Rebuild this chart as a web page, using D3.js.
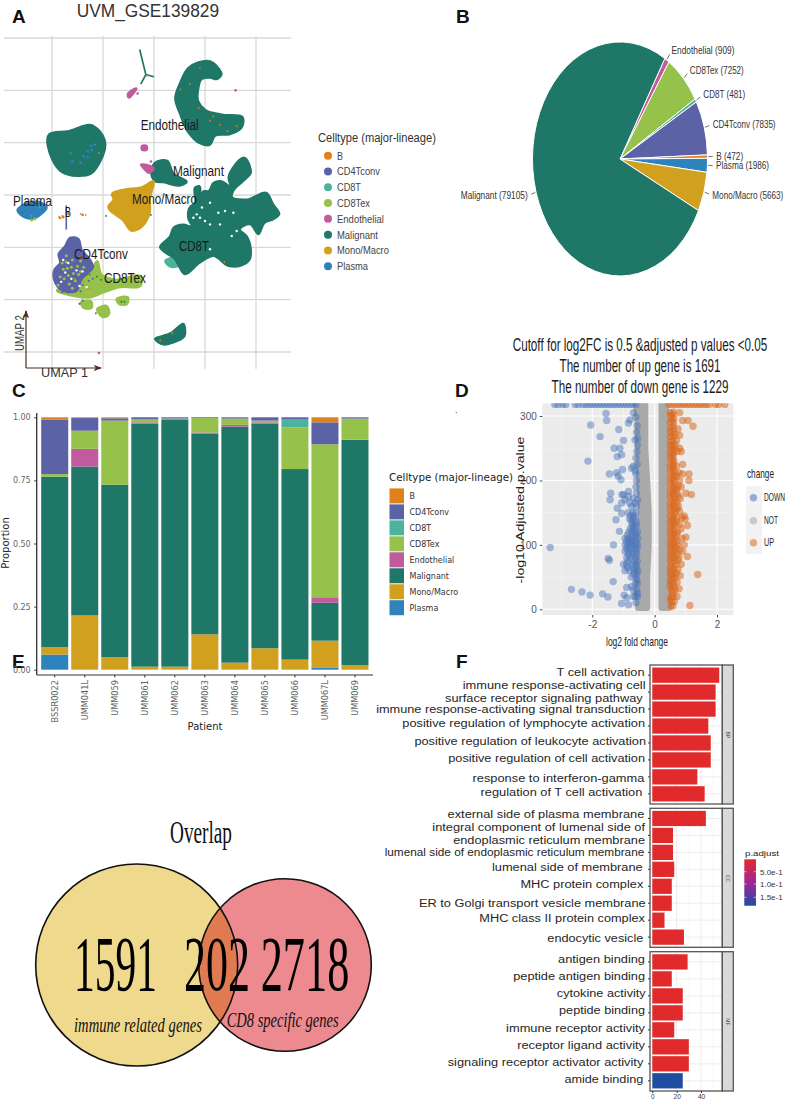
<!DOCTYPE html>
<html><head><meta charset="utf-8">
<script src="https://cdnjs.cloudflare.com/ajax/libs/d3/7.9.0/d3.min.js"></script>
<style>html,body{margin:0;padding:0;background:#fff}svg{display:block}</style>
</head><body><svg id="c" width="787" height="1101"></svg>
<script>
const SANS="Liberation Sans",DJ="DejaVu Sans",SERIF="Liberation Serif";
const cellTypes=["B","CD4Tconv","CD8T","CD8Tex","Endothelial","Malignant","Mono/Macro","Plasma"];
const cellColors=["#e0821b","#5b62a6","#4eb39c","#96c14a","#c05b9d","#1f7768","#d1a01f","#2f83bd"];
const col=d3.scaleOrdinal(cellTypes,cellColors);

// ---- A: UMAP outlines, in UMAP units
const umapMalignant=[
 [[2.06,9.3],[2.55,10.73],[3.37,12.16],[4.35,12.7],[5.49,12.8],[6.31,12.16],[6.64,11.53],[6.15,11.05],[5.49,11.2],[4.68,11.05],[4.35,10.09],[4.35,8.98],[5,8.18],[6.64,7.7],[8.76,7.32],[8.6,6.43],[7.45,5.79],[5.98,5.63],[5.49,4.77],[4.35,5],[3.37,5.95],[2.55,7.7]],
 [[-10.3,5.8],[-8.5,6.1],[-5.9,6.6],[-5.3,6.1],[-4.8,5.2],[-5.3,3.1],[-6.2,2.0],[-7.5,1.8],[-9.2,2.3],[-10.0,3.4]],
 [[.59,-5.03],[1.57,-3.92],[1.9,-3.12],[2.88,-2.81],[3.69,-2.97],[3.37,-2.33],[3.6,-1.05],[3.92,-.89],[4.09,.79],[4.41,.86],[4.51,-.42],[4.84,.38],[5.33,.38],[5.82,1.18],[6.64,1.33],[7.45,.86],[7.29,1.65],[7.71,2.61],[8.92,3.56],[9.41,2.77],[9.51,2.13],[8.76,1.33],[7.78,.38],[7.62,-.1],[9.09,-.42],[11.05,.22],[11.7,-.89],[12.29,-1.85],[11.7,-2.33],[10.88,-2.65],[10.23,-3.76],[9.41,-2.81],[8.43,-3.28],[9.09,-3.92],[9.51,-5.19],[9.41,-6.15],[8.43,-6.79],[7.29,-6.79],[5.82,-5.83],[4.51,-6.47],[3.04,-7.58],[1.9,-5.99],[1.08,-5.51]],
 [[0.1,3.1],[1.3,3.3],[1.9,2.1],[3.2,1.2],[2.6,0.9],[0.9,1.2],[0.1,1.3],[-0.3,2.1]],
 [[0.1,-13.8],[1.6,-13.2],[2.9,-12.3],[3.0,-13.5],[1.9,-14.1],[0.9,-14.3]]
];
const umapTrident=[[[-1.4,13.9],[-0.8,11.5],[0,11.3]],[[-0.8,11.5],[-1.3,10.6]]];
const umapEndothelial=[
 [[-2.6,9.6],[-2.2,10],[-1.7,10.2],[-2,9.7],[-2.5,9.3]],
 [[-1.2,4.7],[-0.7,4.7],[-0.7,4.3],[-1.2,4.3]],
 [[-1.3,2.9],[-0.7,2.9],[0,2.5],[-0.5,2.1],[-1.0,2.5]]
];
const umapMono=[[[-4.15,.07],[-2.85,.54],[-1.21,.75],[-.07,1.34],[-.39,-.41],[-.39,-1.68],[-1.54,-3.28],[-2.19,-3.44],[-3.01,-2.48],[-4.48,-1.05],[-3.99,-.41]]];
const umapPlasma=[[[-13.4,-1.4],[-12.8,-0.9],[-11.1,-0.7],[-10.5,-1.2],[-11.0,-1.8],[-12.0,-2.3],[-12.6,-2.2]]];
const umapTex=[
 [[-9.54,-9.17],[-7.91,-8.05],[-6.28,-7.26],[-5.56,-6.3],[-5.13,-7.58],[-3.99,-8.05],[-1.21,-7.9],[-1.21,-8.53],[-3.5,-8.85],[-4.97,-9.33],[-6.28,-9.8],[-7.91,-9.65]],
 [[-7.2,-10.3],[-6.1,-10.2],[-6.1,-10.8],[-6.9,-10.8]],
 [[-5.6,-10.9],[-4.6,-10.6],[-4.4,-11.4],[-4.9,-11.7]],
 [[-3.7,-10.0],[-2.5,-9.8],[-2.6,-10.4],[-3.5,-10.4]]
];
const umapCD4=[[[-9.38,-5.67],[-8.73,-4.87],[-8.24,-4.07],[-7.42,-4.17],[-7.09,-5.19],[-6.28,-6.14],[-5.95,-6.78],[-7.09,-8.05],[-7.58,-9.17],[-9.22,-9],[-9.71,-8.37],[-9.77,-7.1],[-9.22,-6.46]]];
const umapCD8T=[[[1.08,-6.31],[1.9,-5.99],[2.39,-6.79],[1.57,-6.85]]];
const umapDotsOrange=[[4.5,12.1],[2.6,10.1],[3.5,10.6],[4.4,8.3],[5.8,7.5],[6.5,6.7],[7.2,6.1],[5.5,7.1],[8.1,6.6],[-0.7,11.4],[6.9,-6.4],[1.8,-13.2],[0.6,-13.9],[-5.4,4],[-7.8,-8],[-6.9,-8.2],[-6.3,-8.9],[-9.3,-9.2],[-7.2,-5.9],[-12.0,-2.0],[-11.2,-1.2],[-7.2,-1.8],[-9.3,-2.1],[-9.0,-2.0],[-6.7,-1.9]];
const umapDotsBlue=[[-6.2,4.7],[-6.5,4.2],[-6.9,3.7],[-7.2,3.1],[-5.8,4.8],[-8.2,4],[-8,3.2],[-6.5,3.6],[-6.1,4.3]];
const umapDotsTexOnCD4=[[-9,-6.5],[-8.5,-7],[-8,-6.2],[-8.8,-8],[-7.9,-7.5],[-8.3,-8.5],[-7.5,-6.8],[-9.2,-7.8],[-8.6,-5.8],[-7.7,-8.2],[-8.1,-6.9],[-8.9,-7.1],[-8.4,-7.7],[-7.4,-7.6],[-9.4,-8.6],[-8,-8.9],[-7.2,-6.3],[-6.9,-6.9],[-8.6,-6.4],[-7.2,-7.3],[-12.0,-2.4],[-11.7,-2.3]];
const umapDotsCD4OnTex=[[-6.6,-7.6],[-6.9,-7.8],[-6.4,-8.2],[-7,-8.6],[-6,-8],[-7.2,-9.2],[-8.5,-9.3],[-9,-9.3],[-7.0,-10.1],[-7.3,-10.4]];
const umapDotsWhite=[[5.49,-.74],[6.31,-1.69],[4.51,-2.17],[5,-2.49],[5.49,-2.81],[7.78,-1.69],[8.11,-3.44],[7.62,-3.92],[5.49,-5.19],[4.19,-1.85],[6.96,-1.53],[6.47,-2.81],[3.86,-2.17],[4.7,-1.2],[-8.7,-7.4],[-8.1,-8],[-7.3,-8.7],[-8.9,-6.2],[-7.6,-7.2],[-8.4,-6.5],[-7,-7.3],[-6.6,-8.8],[-9.1,-8.3]];
const umapDotsMalignant=[[-5.6,-7.8],[-6.3,-7.6],[-5.2,-8.1],[-3.2,-10.2],[-2.9,-10.2],[-3.2,-8],[-5.7,-11.3],[-4.7,-2.0],[-0.3,-1.9],[-12.9,-1.7]];
const umapDotsPink=[[8.0,10.0],[-0.3,3.2],[-5.4,-15.1],[-1.6,9.7],[-2.4,9.7]];
const umapBStem=[[-8.6,-1.0],[-8.6,-3.3]];
const umapBDots=[[-9.2,-2.2],[-8.9,-2.1],[-8.4,-1.8],[-7.0,-1.9]];
const umapLabels=["Endothelial","Malignant","Mono/Macro","Plasma","B","CD4Tconv","CD8Tex","CD8T"];

// ---- B: pie
const pieNames=["Endothelial","CD8Tex","CD8T","CD4Tconv","B","Plasma","Mono/Macro","Malignant"];
const pieCounts=[909,7252,481,7835,472,1986,5663,79105];

// ---- C: stacked proportions per patient
const patients=["BSSR0022","UMM041L","UMM059","UMM061","UMM062","UMM063","UMM064","UMM065","UMM066","UMM067L","UMM069"];
const propPlasma=[.06,0,0,0,0,0,0,0,0,.007,0];
const propMono=[.03,.215,.05,.012,.012,.14,.028,.085,.04,.108,.018];
const propMalignant=[.675,.59,.683,.963,.978,.795,.935,.89,.755,.15,.892];
const propEndothelial=[0,.07,0,.005,.003,.005,.007,.005,0,.022,.001];
const propCD8Tex=[.01,.072,.254,.013,.002,.057,.025,.007,.165,.606,.084];
const propCD8T=[0,0,0,0,0,0,0,0,.033,0,0];
const propCD4=[.215,.05,.009,.007,.005,.003,.005,.013,.007,.087,.005];
const propB=[.01,.003,.004,0,0,0,0,0,0,.02,0];

// ---- D: volcano
const downTop=[-3.2,-3.1,-2.95,-2.85,-2.55,-2.45,-2.3,-2.2,-2.1,-2,-1.9,-1.8,-1.7,-1.6,-1.5,-1.4,-1.3,-1.2,-1.1,-1,-.9,-.8,-.7,-.6];
const upTop=[.45,.55,.65,.75,.85,.95,1.05,1.15,1.25,1.35,1.45,1.55,1.65,1.75,1.95,2.05,2.25];
const downPoints=[[-3.35,96],[-2.67,31],[-2.33,27],[-2.07,22],[-1.67,24],[-1.5,19],[-1.33,43],[-1.49,79],[-1.45,76],[-1.32,100],[-1.13,121],[-1.24,139],[-1.2,157],[-1.06,149],[-1.43,170],[-1.41,180],[-1.06,165],[-1,178],[-.84,175],[-.68,172],[-.84,183],[-.58,180],[-1.05,178],[-.95,170],[-1.45,210],[-1.22,212],[-1.03,217],[-1.17,207],[-1.08,201],[-.68,222],[-.6,235],[-.74,219],[-2.14,230],[-1.2,237],[-1.06,240],[-1.3,250],[-1.11,250],[-1,262],[-1.75,268],[-1.15,279],[-2.05,286],[-1.54,293],[-1.56,304],[-.84,289],[-.68,305],[-.79,294],[-.63,263],[-1.06,9],[-.84,7],[-.98,22],[-.9,34],[-.74,35],[-.68,20],[-.9,18],
[-.85,150],[-.7,150],[-.6,150],[-.8,140],[-.7,140],[-.62,140],[-.72,130],[-.65,130],[-.58,130],[-.82,120],[-.72,120],[-.62,120],[-.55,120],[-.95,110],[-.85,110],[-.75,110],[-.65,110],[-.55,110],[-.95,100],[-.85,100],[-.75,100],[-.65,100],[-.55,100],[-.95,90],[-.85,90],[-.72,90],[-.6,90],[-.9,80],[-.78,80],[-.62,80],[-1,70],[-.9,70],[-.72,70],[-.6,70],[-.95,60],[-.8,60],[-.65,60],[-.55,60],[-.75,50],[-.6,50],[-.62,40],[-.55,40],[-.68,30],[-.58,30],[-.62,20],[-.55,20],[-.6,10],[-.58,160],[-.6,190],[-.58,200],[-.6,210],[-.57,245],[-.55,255],[-.58,275],[-.56,285],[-.6,298],
[-.78,145],[-.66,145],[-.74,135],[-.6,135],[-.78,125],[-.66,125],[-.88,115],[-.7,115],[-.6,115],[-.9,105],[-.8,105],[-.7,105],[-.6,105],[-.9,95],[-.78,95],[-.66,95],[-.56,95],[-.84,85],[-.7,85],[-.58,85],[-.85,75],[-.66,75],[-.56,75],[-.88,65],[-.7,65],[-.58,65],[-.68,55],[-.57,55],[-.58,45],[-.56,25],[-.55,170],[-.56,225],[-.62,215],[-.55,265],[-.62,165],[-.74,160],[-.8,165]];
const upPoints=[[1.13,6],[1.38,54],[1.05,82],[1.05,130],[.98,140],[1,112],[.95,100],[.9,90],[1.18,178],[1.1,200],[1.1,210],[.9,210],[1,180],[.85,190],[.9,225],[1.07,293],[1.23,284],[.9,293],[.75,280],[.8,305],[.85,245],[.8,250],[.8,270],[.95,145],[.85,125],
[.52,5],[.58,5],[.55,12],[.63,12],[.52,20],[.6,20],[.72,20],[.55,30],[.65,30],[.78,32],[.52,40],[.6,40],[.72,42],[.55,50],[.66,50],[.82,52],[.52,60],[.62,60],[.75,62],[.56,70],[.68,70],[.85,70],[.52,80],[.62,80],[.78,80],[.55,90],[.66,90],[.8,92],[.52,100],[.62,100],[.75,100],[.55,110],[.66,110],[.88,110],[.52,120],[.62,120],[.74,120],[.55,130],[.64,130],[.8,132],[.52,140],[.6,140],[.72,142],[.88,142],[.55,150],[.66,150],[.8,152],[.52,160],[.62,160],[.76,160],[.55,170],[.66,170],[.82,172],[.52,180],[.6,180],[.72,180],[.55,190],[.66,190],[.76,192],[.52,200],[.62,200],[.8,200],[.55,210],[.66,210],[.78,212],[.52,220],[.6,220],[.7,222],[.55,230],[.62,230],[.52,240],[.6,240],[.72,245],[.54,250],[.62,250],[.52,260],[.58,262],[.7,262],[.55,272],[.65,272],[.52,282],[.6,284],[.54,294],[.62,296],[.52,300],[.58,302],
[.5,15],[.58,25],[.5,35],[.62,35],[.5,45],[.6,47],[.5,55],[.58,55],[.7,56],[.5,65],[.6,65],[.5,75],[.62,75],[.74,76],[.5,85],[.6,85],[.72,86],[.5,95],[.58,95],[.7,96],[.5,105],[.6,105],[.72,106],[.5,115],[.58,115],[.7,116],[.5,125],[.6,125],[.5,135],[.6,135],[.7,136],[.5,145],[.6,145],[.5,155],[.6,155],[.72,156],[.5,165],[.6,165],[.72,166],[.5,175],[.6,175],[.76,176],[.5,185],[.6,185],[.7,186],[.5,195],[.6,195],[.5,205],[.6,205],[.7,206],[.5,215],[.6,215],[.5,225],[.6,225],[.5,235],[.58,235],[.5,245],[.6,245],[.5,255],[.58,255],[.66,255],[.5,268],[.6,268],[.5,277],[.6,278],[.5,290],[.6,290],[.5,305],[.6,306]];
const notY=[2,50,100,150,200,250,300,318];
const notLeftOuter=[-.53,-.53,-.47,-.43,-.5,-.53,-.55,-.6];
const notLeftInner=[-.24,-.24,-.19,-.19,-.24,-.3,-.3,-.3];
const notRightInner=[.22,.22,.22,.22,.22,.22,.22,.22];
const notRightOuter=[.46,.41,.38,.36,.34,.36,.38,.36];
const changeNames=["DOWN","NOT","UP"];
const changeColors=["#4a72b8","#a9a9a9","#d9691f"];

// ---- F: GO enrichment
const goBP=["T cell activation","immune response-activating cell surface receptor signaling pathway","immune response-activating signal transduction","positive regulation of lymphocyte activation","positive regulation of leukocyte activation","positive regulation of cell activation","response to interferon-gamma","regulation of T cell activation"];
const goBPCounts=[55,52,52,46,48,48,37,43];
const goCC=["external side of plasma membrane","integral component of lumenal side of endoplasmic reticulum membrane","lumenal side of endoplasmic reticulum membrane","lumenal side of membrane","MHC protein complex","ER to Golgi transport vesicle membrane","MHC class II protein complex","endocytic vesicle"];
const goCCCounts=[44,17,17,18,16,16,10,26];
const goMF=["antigen binding","peptide antigen binding","cytokine activity","peptide binding","immune receptor activity","receptor ligand activity","signaling receptor activator activity","amide binding"];
const goMFCounts=[29,16,25,25,18,30,30,25];
const goMFPadjust=[.001,.001,.001,.001,.001,.001,.001,.16];
const goLabelRows=[
["T cell activation",644.5,672.3,88],["immune response-activating cell",645.5,684.7,183],["surface receptor signaling pathway",642.7,697.7,198],["immune response-activating signal transduction",645,709.3,269],["positive regulation of lymphocyte activation",645,723.3,243],["positive regulation of leukocyte activation",646,740.7,232],["positive regulation of cell activation",645,757.7,197],["response to interferon-gamma",644.3,777.7,172],["regulation of T cell activation",642.3,792.3,162],
["external side of plasma membrane",644.3,814,197],["integral component of lumenal side of",645,826.7,213],["endoplasmic reticulum membrane",645,840,192],["lumenal side of endoplasmic reticulum membrane",644.3,852.3,260],["lumenal side of membrane",642.7,867,151],["MHC protein complex",643.3,884,123],["ER to Golgi transport vesicle membrane",645.7,902.7,227],["MHC class II protein complex",645,918.3,166],["endocytic vesicle",643.3,937.7,96],
["antigen binding",645,959,87],["peptide antigen binding",645,976.3,132],["cytokine activity",645.7,993.3,89],["peptide binding",645,1010.3,86],["immune receptor activity",645,1028,139],["receptor ligand activity",645,1044.7,128],["signaling receptor activator activity",643.3,1062,196],["amide binding",643.3,1079,79]];

// ---- E: Venn
const vennCounts=[1591,202,2718];
const vennNames=["immune related genes","CD8 specific genes"];

const svg=d3.select("#c");
const defs=svg.append("defs");
function T(g,x,y,s,o={}){
  const t=g.append("text").text(s)
   .attr("font-family",o.f||SANS).attr("font-size",o.s||10).attr("fill",o.c||"#222")
   .attr("text-anchor",o.a||"start");
  if(o.w)t.attr("font-weight",o.w);
  if(o.i)t.attr("font-style","italic");
  const k=o.l?o.l/t.node().getComputedTextLength():1;
  t.attr("transform",`translate(${x},${y})`+(o.r?` rotate(${o.r})`:"")+(o.l?` scale(${k},1)`:""));
  return t;
}
[["A",12,23],["B",456,22.6],["C",12,397],["D",455,397],["E",12,668],["F",456,668]].forEach(d=>T(svg,d[1],d[2],d[0],{s:19,w:"bold",c:"#111"}));

// ===== A
(function(){
 const g=svg.append("g");
 const x=d3.scaleLinear([-10,10],[52,256]),y=d3.scaleLinear([-15,15],[352,38]);
 g.selectAll(".h").data(d3.range(-15,16,5)).join("line").attr("x1",4).attr("x2",291).attr("y1",y).attr("y2",y).attr("stroke","#d9d9d9").attr("stroke-width",1.3);
 g.selectAll(".v").data(d3.range(-10,11,5)).join("line").attr("y1",36).attr("y2",369).attr("x1",x).attr("x2",x).attr("stroke","#d9d9d9").attr("stroke-width",1.3);
 const blob=d3.line().x(d=>x(d[0])).y(d=>y(d[1])).curve(d3.curveCatmullRomClosed.alpha(1));
 const open=d3.line().x(d=>x(d[0])).y(d=>y(d[1]));
 const draw=(arr,c)=>g.append("g").selectAll("path").data(arr).join("path").attr("d",blob).attr("fill",c).attr("stroke",c).attr("stroke-width",1.8).attr("stroke-linejoin","round");
 const dots=(arr,c,r)=>g.append("g").selectAll("circle").data(arr).join("circle").attr("cx",d=>x(d[0])).attr("cy",d=>y(d[1])).attr("r",r).attr("fill",c);
 draw(umapCD8T,col("CD8T"));
 draw(umapMalignant,col("Malignant"));
 g.append("g").selectAll("path").data(umapTrident).join("path").attr("d",open).attr("fill","none").attr("stroke",col("Malignant")).attr("stroke-width",1.7);
 draw(umapEndothelial,col("Endothelial"));
 draw(umapMono,col("Mono/Macro"));
 draw(umapPlasma,col("Plasma"));
 draw(umapTex,col("CD8Tex"));
 draw(umapCD4,col("CD4Tconv"));
 dots(umapDotsTexOnCD4,col("CD8Tex"),1.5);
 dots(umapDotsCD4OnTex,col("CD4Tconv"),1.1);
 dots(umapDotsWhite,"#fff",1.2);
 dots(umapDotsBlue,col("Plasma"),1.4);
 dots(umapDotsMalignant,col("Malignant"),.9);
 dots(umapDotsPink,col("Endothelial"),1.3);
 dots(umapDotsOrange,col("B"),.9);
 g.append("path").attr("d",open(umapBStem)).attr("stroke",col("CD4Tconv")).attr("stroke-width",1.6);
 dots(umapBDots,col("B"),1.4);
 const lp=[[140.7,130,58],[173,175.7,51],[132,204,65],[13,205.7,39],[65,216.7,6],[74,259,54],[104,282.7,42],[179,250.7,30]];
 umapLabels.forEach((s,i)=>T(g,lp[i][0],lp[i][1],s,{s:14,l:lp[i][2],c:"#1a1a1a"}));
 T(g,76.7,17,"UVM_GSE139829",{s:19,l:142.5,c:"#333"});
 defs.append("marker").attr("id","ah").attr("viewBox","0 0 8 8").attr("refX",7).attr("refY",4).attr("markerWidth",7).attr("markerHeight",7).attr("orient","auto").append("path").attr("d","M0,1L8,4L0,7L2,4Z").attr("fill","#4b2e20");
 g.append("line").attr("x1",26).attr("y1",368).attr("x2",26).attr("y2",311).attr("stroke","#4b2e20").attr("stroke-width",1.2).attr("marker-end","url(#ah)");
 g.append("line").attr("x1",26).attr("y1",368).attr("x2",101).attr("y2",368).attr("stroke","#4b2e20").attr("stroke-width",1.2).attr("marker-end","url(#ah)");
 T(g,24,351,"UMAP 2",{s:12,r:-90,l:36,c:"#333"});
 T(g,41,377,"UMAP 1",{s:12,l:47,c:"#333"});
 T(g,318,142,"Celltype (major-lineage)",{s:12.5,l:118,c:"#333"});
 const ly=d3.scalePoint(cellTypes,[155.7,266.2]);
 const lw=[6,43,24,33,47,41,52,31];
 g.selectAll(".k").data(cellTypes).join("circle").attr("cx",328).attr("cy",ly).attr("r",4).attr("fill",col);
 cellTypes.forEach((s,i)=>T(g,337,ly(s)+4,s,{s:11.5,c:"#444",l:lw[i]}));
})();

// ===== B
(function(){
 const g=svg.append("g").attr("transform","translate(620,159)");
 const rx=87.5,ry=117;
 const start=30.8*Math.PI/180;
 const arcs=d3.pie().sort(null).startAngle(start).endAngle(start+2*Math.PI)(pieCounts);
 const arc=d3.arc().innerRadius(0).outerRadius(1);
 const outer=g.append("g").attr("transform",`scale(${rx},${ry})`);
 outer.selectAll("path").data(arcs).join("path").attr("d",arc).attr("fill",(d,i)=>col(pieNames[i])).attr("stroke","#fff").attr("stroke-width",1).attr("vector-effect","non-scaling-stroke");
 const pw=[63,54,42,63,27,53,71,67];
 arcs.forEach((d,i)=>{
  const a=(d.startAngle+d.endAngle)/2, sx=Math.sin(a), sy=-Math.cos(a);
  g.append("line").attr("x1",rx*1.01*sx).attr("y1",ry*1.01*sy).attr("x2",rx*1.06*sx).attr("y2",ry*1.06*sy).attr("stroke","#333").attr("stroke-width",.7);
  const lx=rx*1.1*sx, ly=ry*1.1*sy;
  T(g,lx,ly+3.4,`${pieNames[i]} (${pieCounts[i]})`,{s:10,c:"#333",a:sx>=0?"start":"end",l:pw[i]});
 });
})();

// ===== C
(function(){
 const g=svg.append("g");
 const x=d3.scaleBand(patients,[36.7,373]).paddingInner(.1).paddingOuter(.15);
 const y=d3.scaleLinear([0,1],[669.7,417.3]);
 const order=[["Plasma",propPlasma],["Mono/Macro",propMono],["Malignant",propMalignant],["Endothelial",propEndothelial],["CD8Tex",propCD8Tex],["CD8T",propCD8T],["CD4Tconv",propCD4],["B",propB]];
 const rows=patients.map((p,i)=>{const r={p};order.forEach(o=>r[o[0]]=o[1][i]);return r;});
 const st=d3.stack().keys(order.map(o=>o[0]))(rows);
 g.selectAll("g.s").data(st).join("g").attr("fill",d=>col(d.key)).selectAll("rect").data(d=>d).join("rect")
  .attr("x",d=>x(d.data.p)).attr("width",x.bandwidth()).attr("y",d=>y(d[1])).attr("height",d=>y(d[0])-y(d[1]));
 const ya=g.append("g").attr("transform","translate(36.7,0)").call(d3.axisLeft(y).tickValues([0,.25,.5,.75,1]).tickFormat(d3.format(".2f")).tickSize(2.5));
 ya.select(".domain").attr("d","M0,413V675").attr("stroke","#333").attr("stroke-width",1.3);
 ya.selectAll("text").attr("font-family",DJ).attr("font-size",8).attr("fill","#666").attr("dx",-.5);
 ya.selectAll("line").attr("stroke","#333");
 const xa=g.append("g").attr("transform","translate(0,675)").call(d3.axisBottom(x).tickSize(2.5));
 xa.select(".domain").attr("d","M36.7,0H373").attr("stroke","#777").attr("stroke-width",1.6);
 xa.selectAll("line").attr("stroke","#333");
 xa.selectAll("text").attr("font-family",DJ).attr("font-size",8.2).attr("fill","#666").attr("text-anchor","end").attr("dominant-baseline","central").attr("transform","rotate(-90)").attr("x",-5).attr("y",0).attr("dy",0);
 T(g,205,730,"Patient",{f:DJ,s:10,a:"middle",c:"#222"});
 T(g,9,543,"Proportion",{f:DJ,s:10,a:"middle",r:-90,c:"#222"});
 T(g,389,481,"Celltype (major-lineage)",{f:DJ,s:10.3,c:"#222"});
 const ly=d3.scaleBand(cellTypes,[488,615.8]);
 g.selectAll("rect.k").data(cellTypes).join("rect").attr("class","k").attr("x",389.5).attr("width",14.5).attr("y",d=>ly(d)+.4).attr("height",15).attr("fill",col);
 cellTypes.forEach(s=>T(g,409.5,ly(s)+11,s,{f:DJ,s:8,c:"#333"}));
})();

// ===== D
(function(){
 const g=svg.append("g");
 const L=542.3,R=733.3,Tp=403.3,B=615;
 const x=d3.scaleLinear([-2,2],[592.3,717]),y=d3.scaleLinear([0,300],[609.3,416]);
 g.append("rect").attr("x",L).attr("y",Tp).attr("width",R-L).attr("height",B-Tp).attr("fill","#ebebeb");
 defs.append("clipPath").attr("id","vc").append("rect").attr("x",L).attr("y",Tp).attr("width",R-L).attr("height",B-Tp);
 const grid=g.append("g");
 grid.selectAll(".a").data([-3,-1,1]).join("line").attr("x1",x).attr("x2",x).attr("y1",Tp).attr("y2",B).attr("stroke","#f5f5f5").attr("stroke-width",.6);
 grid.selectAll(".b").data([50,150,250]).join("line").attr("y1",y).attr("y2",y).attr("x1",L).attr("x2",R).attr("stroke","#f5f5f5").attr("stroke-width",.6);
 grid.selectAll(".c").data([-2,0,2]).join("line").attr("x1",x).attr("x2",x).attr("y1",Tp).attr("y2",B).attr("stroke","#fff").attr("stroke-width",1.1);
 grid.selectAll(".d").data([0,100,200,300]).join("line").attr("y1",y).attr("y2",y).attr("x1",L).attr("x2",R).attr("stroke","#fff").attr("stroke-width",1.1);
 const pts=g.append("g").attr("clip-path","url(#vc)");
 const band=(a,b)=>d3.area().y(d=>y(d)).x0((d,i)=>x(a[i])).x1((d,i)=>x(b[i]))(notY);
 [[notLeftOuter,notLeftInner],[notRightInner,notRightOuter]].forEach(p=>pts.append("path").attr("d",band(p[0],p[1])).attr("fill",changeColors[1]).attr("stroke",changeColors[1]).attr("stroke-width",6).attr("stroke-linejoin","round"));
 const dn=downPoints.concat(downTop.map(v=>[v,318])),up=upPoints.concat(upTop.map(v=>[v,318]));
 pts.selectAll(".dn").data(dn).join("circle").attr("cx",d=>x(d[0])).attr("cy",d=>y(d[1])).attr("r",3.7).attr("fill",changeColors[0]).attr("opacity",.48);
 pts.selectAll(".up").data(up).join("circle").attr("cx",d=>x(d[0])).attr("cy",d=>y(d[1])).attr("r",3.7).attr("fill",changeColors[2]).attr("opacity",.55);
 const xa=g.append("g").attr("transform",`translate(0,${B})`).call(d3.axisBottom(x).tickValues([-2,0,2]).tickSize(2.5).tickFormat(d=>d));
 const ya=g.append("g").attr("transform",`translate(${L},0)`).call(d3.axisLeft(y).tickValues([0,100,200,300]).tickSize(2.5));
 [xa,ya].forEach(a=>{a.select(".domain").remove();a.selectAll("text").attr("font-family",SANS).attr("font-size",10).attr("fill","#555");a.selectAll("line").attr("stroke","#444");});
 ["Cutoff for log2FC is 0.5 &adjusted p values <0.05","The number of up gene is 1691","The number of down gene is 1229"].forEach((s,i)=>T(g,640,[351,371.5,392.5][i],s,{s:18,a:"middle",c:"#1a1a1a",l:[255,161,177][i]}));
 T(g,524,510,"-log10 Adjusted.p.value",{s:11,a:"middle",r:-90,l:147,c:"#222"});
 T(g,637,646,"log2 fold change",{s:13,a:"middle",l:62,c:"#222"});
 T(g,747,478,"change",{s:13,l:27,c:"#222"});
 T(g,455,413,".",{s:9,c:"#111"});
 const dw=[21,14,10];
 changeNames.forEach((s,i)=>{
  const cy=[497.7,520.7,542.7][i];
  g.append("rect").attr("x",746).attr("y",cy-11.5).attr("width",16).attr("height",23).attr("fill","#f2f2f2");
  g.append("circle").attr("cx",753.5).attr("cy",cy).attr("r",3.7).attr("fill",changeColors[i]).attr("opacity",.55);
  T(g,764,cy+3.3,s,{s:10,c:"#222",l:dw[i]});
 });
})();

// ===== E
(function(){
 const g=svg.append("g");
 const cx1=136.7,cx2=285,cy=965,r1=101,r2=86.3;
 defs.append("clipPath").attr("id","vi").append("circle").attr("cx",cx1).attr("cy",cy).attr("r",r1);
 g.append("circle").attr("cx",cx1).attr("cy",cy).attr("r",r1).attr("fill","#efd98c");
 g.append("circle").attr("cx",cx2).attr("cy",cy).attr("r",r2).attr("fill","#ec8a90");
 g.append("circle").attr("cx",cx2).attr("cy",cy).attr("r",r2).attr("fill","#e07a50").attr("clip-path","url(#vi)");
 [[cx1,r1],[cx2,r2]].forEach(d=>g.append("circle").attr("cx",d[0]).attr("cy",cy).attr("r",d[1]).attr("fill","none").attr("stroke","#111").attr("stroke-width",1.6));
 T(g,170,842.7,"Overlap",{f:SERIF,s:32,l:62,c:"#111"});
 const nx=[[74,83],[184,66],[260.7,88.6]];
 vennCounts.forEach((v,i)=>T(g,nx[i][0],990,v,{f:SERIF,s:78,l:nx[i][1],c:"#000"}));
 T(g,74,1031.7,vennNames[0],{f:SERIF,s:21,i:1,l:128,c:"#111"});
 T(g,226.7,1027,vennNames[1],{f:SERIF,s:21,i:1,l:112,c:"#111"});
})();

// ===== F
(function(){
 const g=svg.append("g");
 const L=650,R=722.3,SR=733.3;
 const x=d3.scaleLinear([0,40],[652.3,701]);
 const color=d3.scaleLinear([0,.08,.16],["#e12a2a","#a0259a","#1f4ea0"]);
 const panels=[["BP",goBP,goBPCounts,665,804,goBP.map(()=>.001)],["CC",goCC,goCCCounts,808.3,947.3,goCC.map(()=>.001)],["MF",goMF,goMFCounts,951.7,1091,goMFPadjust]];
 panels.forEach(p=>{
  const [name,terms,vals,t,b,pa]=p;
  const y=d3.scaleBand(terms,[t,b]).paddingInner(.1).paddingOuter(.15);
  g.append("g").selectAll("line").data([10,30,50]).join("line").attr("x1",x).attr("x2",x).attr("y1",t).attr("y2",b).attr("stroke","#f2f2f2").attr("stroke-width",.6);
  g.append("g").selectAll("line").data([0,20,40]).join("line").attr("x1",x).attr("x2",x).attr("y1",t).attr("y2",b).attr("stroke","#e8e8e8").attr("stroke-width",.8);
  g.append("g").selectAll("line").data(terms).join("line").attr("x1",L).attr("x2",R).attr("y1",d=>y(d)+y.bandwidth()/2).attr("y2",d=>y(d)+y.bandwidth()/2).attr("stroke","#e8e8e8").attr("stroke-width",.8);
  g.append("g").selectAll("rect").data(terms).join("rect").attr("x",x(0)).attr("y",d=>y(d)).attr("height",y.bandwidth()).attr("width",(d,i)=>x(vals[i])-x(0)).attr("fill",(d,i)=>color(pa[i]));
  const ya=g.append("g").attr("transform",`translate(${L},0)`).call(d3.axisLeft(y).tickSize(2).tickFormat(""));
  ya.select(".domain").remove();ya.selectAll("line").attr("stroke","#333");
  g.append("rect").attr("x",L).attr("y",t).attr("width",R-L).attr("height",b-t).attr("fill","none").attr("stroke","#555").attr("stroke-width",1.3);
  g.append("rect").attr("x",R).attr("y",t).attr("width",SR-R).attr("height",b-t).attr("fill","#d9d9d9").attr("stroke","#555").attr("stroke-width",1.3);
  T(g,(R+SR)/2-1.5,(t+b)/2-3,name,{s:5,r:90,c:"#444"});
 });
 const xa=g.append("g").attr("transform","translate(0,1091)").call(d3.axisBottom(x).tickValues([0,20,40]).tickSize(2));
 xa.select(".domain").remove();xa.selectAll("line").attr("stroke","#333");
 xa.selectAll("text").attr("font-family",SANS).attr("font-size",6.5).attr("fill","#333").attr("y",3).attr("dy",".71em");
 goLabelRows.forEach(r=>T(g,r[1],r[2]+4,r[0],{s:11.5,a:"end",l:r[3],c:"#262626"}));
 T(g,745,855.5,"p.adjust",{s:7.5,l:34,c:"#222"});
 const gr=defs.append("linearGradient").attr("id","pg").attr("x1",0).attr("x2",0).attr("y1",0).attr("y2",1);
 [0,.08,.16].forEach(v=>gr.append("stop").attr("offset",v/.16).attr("stop-color",color(v)));
 g.append("rect").attr("x",744.3).attr("y",859.3).attr("width",11.7).attr("height",46.4).attr("fill","url(#pg)");
 [["5.0e-1",871.7],["1.0e-1",884],["1.5e-1",897.3]].forEach(d=>{
  T(g,760,d[1]+2.8,d[0],{s:8,c:"#333"});
  g.append("line").attr("x1",744.3).attr("x2",746.5).attr("y1",d[1]).attr("y2",d[1]).attr("stroke","#fff").attr("stroke-width",.6);
  g.append("line").attr("x1",753.8).attr("x2",756).attr("y1",d[1]).attr("y2",d[1]).attr("stroke","#fff").attr("stroke-width",.6);
 });
})();
</script></body></html>
